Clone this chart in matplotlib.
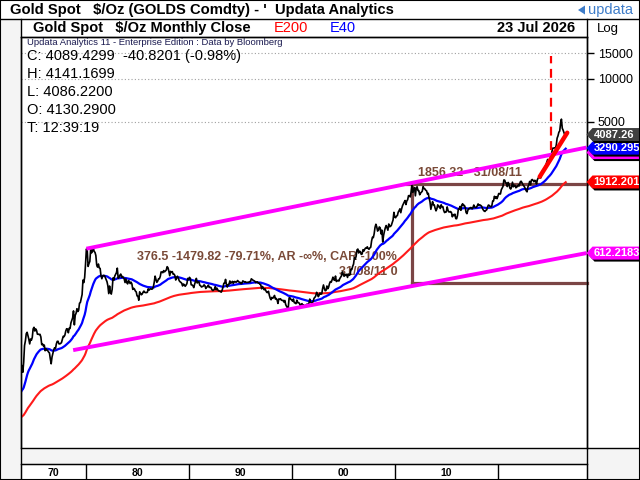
import matplotlib
matplotlib.use("Agg")
import matplotlib.pyplot as plt
from matplotlib.patches import Rectangle, Polygon
from matplotlib.lines import Line2D
from matplotlib.ticker import NullLocator
import numpy as np
import pandas as pd

plt.rcParams['font.family'] = ['Liberation Sans', 'DejaVu Sans']

# monthly closes, $/oz, first value = Jan 1968
start_year = 1968
gold_1968_1979 = [
    35.2, 35.2, 37.3, 38.0, 41.0, 41.1, 39.1, 39.0, 39.3, 39.4, 40.7, 41.9,
    42.5, 42.6, 43.3, 43.4, 43.5, 41.3, 41.7, 41.0, 40.8, 39.6, 35.4, 35.2,
    34.9, 35.0, 35.1, 35.7, 36.0, 35.4, 35.3, 35.4, 36.2, 37.5, 37.4, 37.4,
    38.0, 38.8, 38.9, 39.8, 40.5, 40.1, 41.0, 42.7, 42.0, 42.5, 43.0, 43.6,
    45.8, 48.3, 48.3, 49.0, 54.6, 62.0, 65.7, 67.0, 65.2, 64.9, 62.9, 63.9,
    65.1, 74.2, 84.4, 90.5, 102.0, 123.3, 120.0, 106.8, 103.0, 100.1, 90.8, 106.7,
    139.3, 150.2, 168.4, 172.2, 163.3, 154.1, 143.0, 154.6, 151.8, 158.8, 181.8, 186.5,
    175.8, 181.8, 177.3, 167.0, 167.0, 166.3, 166.7, 159.8, 141.3, 142.9, 138.3, 140.3,
    128.2, 132.3, 129.6, 128.4, 125.5, 123.8, 112.5, 104.0, 116.0, 123.2, 130.3, 134.5,
    132.3, 142.8, 148.9, 149.2, 143.2, 143.0, 144.1, 146.0, 154.1, 161.5, 160.5, 164.9,
    175.8, 182.3, 181.6, 170.9, 183.9, 183.1, 200.3, 208.1, 217.1, 242.6, 194.0, 226.0,
    233.7, 251.3, 240.1, 245.3, 274.6, 277.5, 296.5, 315.1, 397.3, 382.0, 415.7, 512.0,
]
gold_1980s = [
    653.0, 637.0, 494.5, 518.0, 535.5, 653.5, 614.3, 631.3, 666.8, 629.0, 619.8, 589.8,
    506.5, 489.0, 513.8, 482.8, 479.3, 426.0, 406.0, 425.0, 428.8, 427.0, 414.5, 400.0,
    387.0, 362.6, 320.0, 361.3, 325.3, 317.5, 342.9, 411.5, 397.0, 423.3, 436.0, 448.0,
    481.0, 408.5, 414.8, 429.3, 437.5, 416.0, 422.0, 414.3, 405.0, 382.0, 405.0, 382.4,
    373.8, 394.3, 388.5, 375.8, 384.3, 373.1, 342.4, 348.3, 343.8, 333.5, 329.0, 308.3,
    306.7, 287.8, 329.3, 321.4, 314.0, 317.8, 327.5, 333.3, 326.3, 325.1, 325.3, 326.8,
    345.5, 338.2, 344.0, 345.8, 343.2, 345.5, 357.5, 384.7, 423.3, 401.0, 383.5, 390.9,
    405.5, 405.9, 421.1, 453.3, 451.0, 447.3, 462.5, 453.4, 459.5, 466.8, 492.5, 484.1,
    458.0, 426.2, 456.9, 449.0, 455.5, 436.6, 437.4, 427.8, 397.7, 412.4, 422.6, 410.2,
    394.0, 387.0, 383.2, 377.6, 361.8, 373.0, 368.3, 359.8, 366.5, 375.3, 408.2, 401.0,
]
gold_1990s = [
    415.1, 407.7, 368.5, 367.8, 363.1, 352.2, 372.3, 387.8, 408.4, 379.5, 384.9, 386.2,
    366.0, 362.7, 355.7, 357.8, 360.4, 368.4, 362.9, 347.4, 354.9, 357.5, 366.3, 353.2,
    354.1, 353.3, 341.7, 336.4, 337.5, 343.4, 357.8, 340.0, 349.0, 339.3, 334.2, 333.3,
    330.5, 327.6, 337.8, 354.3, 377.5, 378.5, 401.8, 371.6, 355.5, 369.6, 370.9, 391.8,
    377.9, 381.6, 389.2, 376.5, 387.6, 388.3, 384.0, 385.8, 394.9, 389.1, 383.1, 383.3,
    374.9, 376.4, 392.0, 389.8, 384.3, 387.1, 383.4, 382.4, 384.0, 382.7, 387.8, 387.0,
    405.6, 400.7, 396.4, 393.8, 390.6, 382.0, 385.3, 386.5, 379.0, 379.5, 371.3, 369.3,
    345.5, 358.6, 348.2, 340.2, 345.6, 334.6, 326.4, 325.4, 332.1, 311.4, 296.8, 290.2,
    301.3, 297.4, 301.0, 310.7, 293.6, 296.3, 288.9, 273.4, 293.9, 292.3, 294.7, 287.8,
    287.1, 287.3, 279.5, 286.6, 268.6, 261.0, 255.6, 254.8, 299.0, 299.1, 291.4, 290.3,
]
gold_2000s = [
    283.3, 293.7, 276.8, 275.1, 272.3, 288.2, 276.8, 277.0, 273.7, 264.5, 269.1, 272.7,
    264.5, 266.7, 257.7, 263.2, 267.5, 270.6, 265.9, 273.0, 293.1, 278.8, 275.5, 276.5,
    282.3, 296.9, 301.4, 308.2, 326.6, 318.5, 304.7, 312.8, 323.7, 316.9, 319.1, 347.2,
    367.5, 347.5, 334.9, 336.8, 361.4, 346.0, 354.8, 375.6, 388.0, 383.8, 398.4, 416.3,
    399.8, 395.9, 423.7, 388.5, 393.3, 395.8, 391.4, 407.3, 415.7, 425.6, 453.4, 435.6,
    422.2, 435.5, 427.5, 435.7, 414.5, 437.1, 429.0, 433.3, 473.3, 470.8, 495.7, 513.0,
    568.8, 556.0, 582.0, 644.0, 653.0, 613.5, 632.5, 623.5, 599.3, 603.8, 646.7, 632.0,
    650.5, 664.2, 661.8, 677.0, 659.1, 650.5, 665.5, 672.0, 743.0, 789.5, 783.5, 833.8,
    923.3, 971.5, 933.5, 871.0, 885.8, 930.3, 918.0, 833.0, 884.5, 730.8, 814.5, 869.8,
    919.5, 952.0, 916.5, 883.3, 975.5, 934.5, 939.0, 955.5, 995.8, 1040.0, 1175.8, 1087.5,
]
gold_2010s = [
    1078.5, 1108.3, 1115.5, 1179.3, 1207.5, 1244.0, 1169.0, 1246.0, 1307.0, 1346.8, 1386.0, 1421.0,
    1332.0, 1411.0, 1439.0, 1535.5, 1536.5, 1505.5, 1628.5, 1828.0, 1620.0, 1722.0, 1746.0, 1531.0,
    1740.0, 1770.0, 1668.0, 1664.0, 1558.0, 1598.5, 1622.0, 1648.5, 1776.0, 1719.0, 1714.0, 1675.0,
    1663.0, 1579.0, 1596.0, 1472.0, 1393.0, 1234.0, 1314.0, 1395.0, 1326.0, 1323.0, 1253.0, 1204.5,
    1244.0, 1326.0, 1284.0, 1295.8, 1250.5, 1327.3, 1282.8, 1287.0, 1210.5, 1171.0, 1182.8, 1184.0,
    1283.0, 1213.0, 1183.5, 1183.5, 1190.5, 1171.0, 1095.0, 1135.0, 1115.5, 1142.0, 1064.5, 1061.0,
    1117.0, 1238.0, 1232.5, 1292.0, 1215.0, 1320.5, 1349.0, 1309.0, 1315.5, 1272.5, 1173.5, 1151.5,
    1210.5, 1249.0, 1249.5, 1268.0, 1268.5, 1242.0, 1269.5, 1322.0, 1280.0, 1271.0, 1275.0, 1303.0,
    1345.0, 1318.0, 1325.0, 1315.0, 1298.5, 1252.5, 1223.0, 1201.0, 1192.5, 1215.0, 1222.5, 1281.5,
    1321.0, 1313.0, 1292.0, 1284.0, 1305.5, 1409.5, 1413.5, 1520.0, 1472.0, 1511.0, 1464.0, 1517.0,
]
gold_2020s = [
    1589.0, 1585.5, 1577.0, 1686.5, 1730.0, 1781.0, 1975.0, 1968.0, 1886.0, 1879.0, 1776.0, 1898.0,
    1847.5, 1733.5, 1707.5, 1769.0, 1906.0, 1770.0, 1814.0, 1813.5, 1742.5, 1783.0, 1774.5, 1829.0,
    1797.0, 1908.5, 1937.0, 1896.0, 1837.0, 1807.0, 1766.0, 1711.0, 1660.5, 1633.5, 1768.5, 1824.0,
    1928.5, 1827.0, 1969.0, 1990.0, 1962.5, 1919.0, 1965.0, 1940.0, 1849.0, 1983.0, 2036.0, 2063.0,
    2039.5, 2044.0, 2229.5, 2286.0, 2327.5, 2326.5, 2447.5, 2503.0, 2634.5, 2744.0, 2653.5, 2625.0,
    2798.5, 2858.0, 3123.0, 3288.5, 3289.0, 3303.0, 3290.0, 3447.0, 3858.0, 4002.0, 4239.0, 4320.0,
    4870.0, 5230.0, 4520.0, 4380.0, 4200.0, 4050.0, 4089.43,
]

# drawn lines (decimal year, price)
upper_channel_x = [1980.08, 2028.6]
upper_channel_y = [657.0, 3318.0]
lower_channel_x = [1978.8, 2028.6]
lower_channel_y = [129.4, 612.2]
box_date = 2011.667
box_high = 1856.32
box_low = 376.5
dash_x = 2025.12
dash_y = [3190.0, 14400.0]
trend_x = [2024.06, 2026.73]
trend_y = [2079.0, 4206.0]

decade_edges = [1980, 1990, 2000, 2010, 2020]
decade_labels = ['70', '80', '90', '00', '10', '']
ytick_values = [5000, 10000, 15000]

# right axis price flags: text, value, colour, extra shift in px (later ones sit on top)
flags = [
    ('612.2183', 612.2183, '#ff00ff', 0),
    ('1912.201', 1912.201, '#ff0000', 0),
    ('3318.124', 3318.124, '#ff00ff', 5),
    ('3290.295', 3290.295, '#0000ff', 0),
    ('4087.26', 4087.26, '#404040', 0),
]

close = np.array(gold_1968_1979 + gold_1980s + gold_1990s + gold_2000s + gold_2010s + gold_2020s)
years = start_year + (np.arange(len(close)) + 1) / 12.0
e200 = pd.Series(close).ewm(span=200, adjust=False).mean().values
e40 = pd.Series(close).ewm(span=40, adjust=False).mean().values

W, H = 640, 480
def fx(x):
    return x / W
def fy(y):
    return 1 - y / H

fig = plt.figure(figsize=(6.4, 4.8), dpi=100)
fig.patch.set_facecolor('white')

def prect(x0, y0, x1, y1, fc, ec='none', lw=1.0, z=-5):
    fig.add_artist(Rectangle((fx(x0), fy(y1)), fx(x1) - fx(x0), fy(y0) - fy(y1),
                             transform=fig.transFigure, facecolor=fc, edgecolor=ec, lw=lw, zorder=z))

def pline(xs, ys, z=5, color='black', lw=1.0):
    fig.add_artist(Line2D([fx(v) for v in xs], [fy(v) for v in ys], transform=fig.transFigure,
                          color=color, lw=lw, zorder=z))

XL = (1973.74, 2028.6)
PL, PR, PT, PB = 21, 586.5, 37, 448

# background panels
prect(0, 19, PL, 480, '#f4f4f4')
prect(PL, PB, PR, 464, '#f4f4f4')
prect(PR, PB, 640, 480, '#f4f4f4')

# main chart
ax = fig.add_axes([fx(PL), fy(PB), fx(PR) - fx(PL), fy(PT) - fy(PB)])
ax.set_yscale('log')
ax.set_xlim(XL)
ax.set_ylim(27.0, 19490.0)
ax.yaxis.tick_right()
ax.set_yticks(ytick_values)
ax.set_yticklabels([str(v) for v in ytick_values])
ax.yaxis.set_minor_locator(NullLocator())
ax.tick_params(axis='y', direction='out', length=5, width=1, labelsize=9, pad=3)
ax.set_xticks([])
ax.grid(axis='y', which='major', linestyle=(0, (1, 2)), color='#a0a0a0', lw=0.8)
for s in ax.spines.values():
    s.set_linewidth(1)

brown = '#7b4545'
ax.plot([box_date, box_date], [box_low, box_high], color=brown, lw=2.3, zorder=3)
ax.plot([box_date - 0.5, XL[1]], [box_high, box_high], color=brown, lw=2.3, zorder=3, clip_on=False)
ax.plot([box_date, XL[1]], [box_low, box_low], color=brown, lw=2.3, zorder=3, clip_on=False)

ax.plot(years, e200, color='#ff1a1a', lw=1.5, zorder=4)
ax.plot(years, e40, color='#0000ff', lw=1.6, zorder=4)
ax.plot(years, close, color='black', lw=1.2, zorder=5)

ax.plot(upper_channel_x, upper_channel_y, color='#ff00ff', lw=2.8, zorder=6, solid_capstyle='butt')
ax.plot(lower_channel_x, lower_channel_y, color='#ff00ff', lw=2.8, zorder=6, solid_capstyle='butt')
ax.plot([dash_x, dash_x], dash_y, color='#ff0000', lw=1.6, ls=(0, (4, 2.5)), zorder=6)
ax.plot(trend_x, trend_y, color='#ff0000', lw=3.2, zorder=6, solid_capstyle='round')

txt_color = '#7a4a38'
ax.text(2012.3, 2215, '1856.32   31/08/11', color=txt_color, fontsize=9, weight='bold',
        va='center', ha='left', zorder=2)
ax.text(2010.24, 577, '376.5 -1479.82 -79.71%, AR -\u221e%, CAR -100%', color=txt_color,
        fontsize=9, weight='bold', va='center', ha='right', zorder=2)
ax.text(2010.24, 453.6, '31/08/11 0', color=txt_color, fontsize=9, weight='bold',
        va='center', ha='right', zorder=2)

# decade label row
lab = fig.add_axes([fx(PL), fy(480), fx(PR) - fx(PL), fy(464) - fy(480)])
lab.set_xlim(XL)
lab.set_ylim(0, 1)
lab.set_xticks([])
lab.set_yticks([])
for b in decade_edges:
    lab.axvline(b, color='black', lw=1)
centers = [(XL[0] + decade_edges[0]) / 2] + [b + 5 for b in decade_edges]
for c, t in zip(centers, decade_labels):
    if t:
        lab.text(c, 0.45, t, ha='center', va='center', fontsize=7.5, weight='bold')

# frame lines
pline([0, 640], [19, 19])
pline([PL, PL], [19, 480])
pline([PR, PR], [19, 480])
pline([PL, PR], [PT, PT])
pline([PL, PR], [464, 464])
pline([PR, 640], [PB, PB])
fig.add_artist(Rectangle((0, 0), 1, 1, transform=fig.transFigure, fill=False,
                         edgecolor='black', lw=1.5, zorder=30))

# titles
fig.text(fx(10), fy(10), "Gold Spot   $/Oz (GOLDS Comdty) - '  Updata Analytics",
         fontsize=10.6, weight='bold', va='center', ha='left')
fig.text(fx(33), fy(28), 'Gold Spot   $/Oz Monthly Close', fontsize=10.5, weight='bold',
         va='center', ha='left')
fig.text(fx(274), fy(28), 'E200', fontsize=10.5, color='#ff0000', va='center', ha='left')
fig.text(fx(330), fy(28), 'E40', fontsize=10.5, color='#0000ff', va='center', ha='left')
fig.text(fx(575), fy(28), '23 Jul 2026', fontsize=10.5, weight='bold', va='center', ha='right')
fig.text(fx(597), fy(29), 'Log', fontsize=9.5, va='center', ha='left')

# updata logo
fig.add_artist(Polygon([(fx(578), fy(10)), (fx(585), fy(5.5)), (fx(585), fy(14.5))],
                       closed=True, transform=fig.transFigure, facecolor='#3d7cc9',
                       edgecolor='none', zorder=6))
fig.text(fx(588), fy(10), 'updata', fontsize=10.5, color='#3d7cc9', va='center', ha='left')

# info box
fig.text(fx(27), fy(42.5), 'Updata Analytics 11 - Enterprise Edition : Data by Bloomberg',
         fontsize=6.8, color='#1a1a50', va='center', ha='left')
info_lines = ['C: 4089.4299  -40.8201 (-0.98%)', 'H: 4141.1699', 'L: 4086.2200',
              'O: 4130.2900', 'T: 12:39:19']
info_y = [56, 73.5, 91.5, 109.5, 127.5]
for t, yy in zip(info_lines, info_y):
    fig.text(fx(27), fy(yy), t, fontsize=10.5, va='center', ha='left')

# price flags on the right axis, each one stacked above the previous
for i, (t, v, col, shift) in enumerate(flags):
    z = 7 + 3 * i
    yc = H - ax.transData.transform((XL[1], v))[1] + shift
    hh = 6.5
    pts = [(PR, yc), (PR + 6, yc - hh), (642, yc - hh), (642, yc + hh), (PR + 6, yc + hh)]
    sh = [(px + 2, py + 2) for px, py in pts]
    fig.add_artist(Polygon([(fx(a), fy(b)) for a, b in sh], closed=True,
                           transform=fig.transFigure, facecolor='black', edgecolor='none', zorder=z))
    fig.add_artist(Polygon([(fx(a), fy(b)) for a, b in pts], closed=True,
                           transform=fig.transFigure, facecolor=col, edgecolor='none', zorder=z + 1))
    fig.text(fx(PR + 7), fy(yc), t, fontsize=8, weight='bold', color='white',
             va='center', ha='left', zorder=z + 2)

fig.savefig('out.png', dpi=100)
